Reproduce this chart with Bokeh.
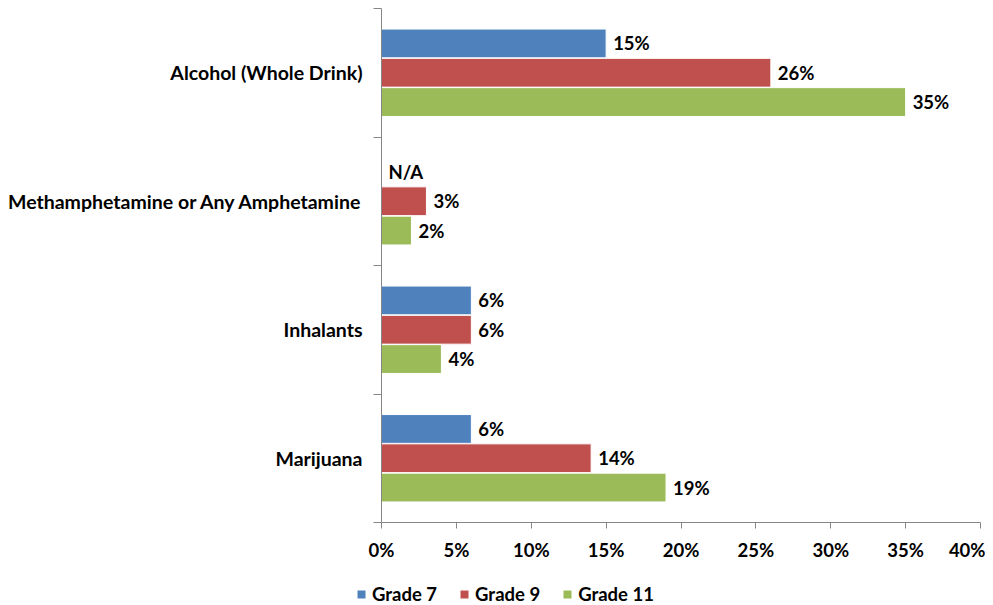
from bokeh.plotting import figure
from bokeh.layouts import column
from bokeh.models import (Range1d, FixedTicker, Legend, LegendItem, ColumnDataSource)
from bokeh.core.properties import value
from bokeh.embed import file_html
from bokeh.resources import INLINE

categories = ["Marijuana", "Inhalants", "Methamphetamine or Any Amphetamine", "Alcohol (Whole Drink)"]
grade7 = [6, 6, None, 15]
grade9 = [14, 6, 3, 26]
grade11 = [19, 4, 2, 35]
series_names = ["Grade 7", "Grade 9", "Grade 11"]
colors = ["#4F81BD", "#C0504D", "#9BBB59"]
x_ticks = [0, 5, 10, 15, 20, 25, 30, 35, 40]

FONT = "Lato"

p = figure(width=985, height=565, output_backend="svg", toolbar_location=None,
           x_range=Range1d(0, 40), y_range=Range1d(0, len(categories)),
           min_border_left=381, min_border_right=5, min_border_top=8, min_border_bottom=43)
p.frame_align = False
p.outline_line_color = None
p.xgrid.visible = False
p.ygrid.visible = False
p.background_fill_color = "white"
p.border_fill_color = "white"

offsets = [0.228, 0.0, -0.228]
bar_h = 0.224
for series, off, col in zip([grade7, grade9, grade11], offsets, colors):
    ys, xs, labels, lx, ly = [], [], [], [], []
    for i, v in enumerate(series):
        y = i + 0.5 + off
        if v is None:
            labels.append("N/A"); lx.append(0); ly.append(y)
            continue
        ys.append(y); xs.append(v)
        labels.append(f"{v}%"); lx.append(v); ly.append(y)
    src = ColumnDataSource(dict(y=ys, right=xs))
    p.hbar(y="y", right="right", left=0, height=bar_h, source=src,
           fill_color=col, line_color="white", line_width=1)
    lsrc = ColumnDataSource(dict(x=lx, y=ly, t=labels))
    p.text(x="x", y="y", text="t", source=lsrc, x_offset=7, text_align="left",
           text_baseline="middle", text_font=value(FONT), text_font_style="bold",
           text_font_size="18.5px", text_color="black")

# x axis
xa = p.xaxis[0]
xa.ticker = FixedTicker(ticks=x_ticks)
xa.major_label_overrides = {t: f"{t}%" for t in x_ticks}
xa.axis_line_color = "#868686"
xa.major_tick_line_color = "#868686"
xa.major_tick_out = 6
xa.major_tick_in = 0
xa.minor_tick_line_color = None
xa.major_label_standoff = 10
xa.major_label_text_font = FONT
xa.major_label_text_font_style = "bold"
xa.major_label_text_font_size = "18.5px"
xa.major_label_text_color = "black"

# y axis
ya = p.yaxis[0]
centers = [i + 0.5 for i in range(len(categories))]
ya.ticker = FixedTicker(ticks=centers, minor_ticks=list(range(len(categories) + 1)))
ya.major_label_overrides = {c: name for c, name in zip(centers, categories)}
ya.axis_line_color = "#868686"
ya.major_tick_line_color = None
ya.minor_tick_line_color = "#868686"
ya.minor_tick_out = 8
ya.minor_tick_in = 0
ya.major_label_standoff = 11
ya.major_label_text_font = FONT
ya.major_label_text_font_style = "bold"
ya.major_label_text_font_size = "19.5px"
ya.major_label_text_color = "black"

# legend strip
lg = figure(width=985, height=40, output_backend="svg", toolbar_location=None,
            x_range=Range1d(0, 1), y_range=Range1d(0, 1),
            min_border_left=0, min_border_right=0, min_border_top=0, min_border_bottom=0)
lg.frame_align = False
lg.xaxis.visible = False
lg.yaxis.visible = False
lg.grid.visible = False
lg.outline_line_color = None
items = []
for name, col in zip(series_names, colors):
    r = lg.hbar(y=[-5], right=[1], left=0, height=0.5, fill_color=col, line_color=None)
    items.append(LegendItem(label=name, renderers=[r]))
legend = Legend(items=items, orientation="horizontal", location=(356, 0),
                label_text_font=FONT, label_text_font_style="bold", label_text_font_size="18.5px",
                label_text_color="black", label_height=16,
                glyph_width=10, glyph_height=10, label_standoff=6, spacing=22,
                padding=0, margin=0, border_line_color=None, background_fill_alpha=0)
lg.add_layout(legend, "center")

layout = column(p, lg, spacing=0)
open("out.html", "w").write(file_html(layout, INLINE))
